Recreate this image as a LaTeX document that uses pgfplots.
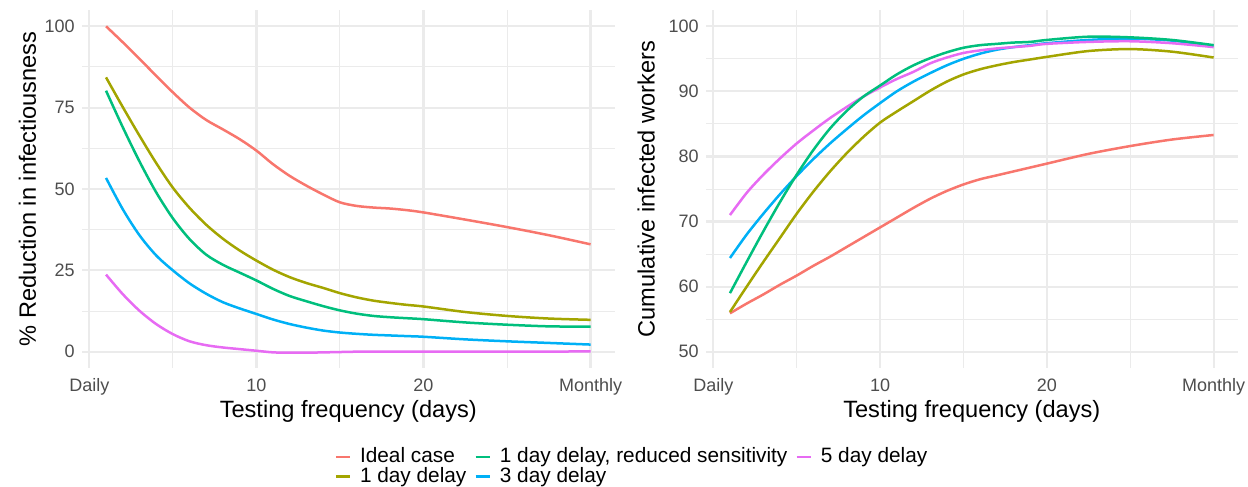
\documentclass[border=0pt]{standalone}
\usepackage{pgfplots}
\pgfplotsset{compat=1.18}
\usepackage{fontspec}
\setmainfont{Liberation Sans}
\definecolor{cRed}{HTML}{F8766D}
\definecolor{cOlive}{HTML}{A3A500}
\definecolor{cGreen}{HTML}{00BF7D}
\definecolor{cBlue}{HTML}{00B0F6}
\definecolor{cPink}{HTML}{E76BF3}
\definecolor{gridc}{HTML}{EBEBEB}
\definecolor{tickc}{HTML}{4D4D4D}
\pgfplotsset{
  gg/.style={
    scale only axis, width=266.5pt, height=179pt,
    xmin=-0.45, xmax=31.45,
    xtick={0,10,20,30}, xticklabels={Daily,10,20,Monthly},
    minor xtick={5,15,25},
    grid=both,
    major grid style={draw=gridc, line width=1.1pt},
    minor grid style={draw=gridc, line width=0.5pt},
    axis line style={draw=none},
    major tick length=0pt, minor tick length=0pt,
    tick label style={font=\fontsize{9}{10}\selectfont, text=tickc},
    xticklabel style={yshift=-1.8pt},
    /pgf/number format/assume math mode=true,
    xlabel={Testing frequency (days)},
    every axis x label/.style={at={(axis description cs:0.5,-0.122)}, anchor=center, font=\fontsize{11.8}{13}\selectfont},
    every axis plot/.append style={line width=1.25pt, smooth, mark=none},
  }
}
\begin{document}
\begin{tikzpicture}
\path[use as bounding box] (0,0) rectangle (624pt,243.5pt);
% ---------- left panel ----------
\begin{axis}[gg, at={(40.9pt,59.5pt)}, anchor=south west,
  ymin=-5, ymax=105, ytick={0,25,50,75,100}, minor ytick={12.5,37.5,62.5,87.5},
  ylabel={\% Reduction in infectiousness},
  every axis y label/.style={at={(axis description cs:-0.102,0.5)}, rotate=90, anchor=center, font=\fontsize{11.8}{13}\selectfont},
]
\addplot[cRed] coordinates {(1,100) (2,95.1) (3,90.0) (4,84.8) (5,79.7) (6,75.0) (7,71.2) (8,68.3) (9,65.3) (10,61.8) (11,57.6) (12,54.0) (13,51.0) (14,48.3) (15,45.9) (16,44.8) (17,44.3) (18,44.0) (19,43.5) (20,42.8) (22.5,40.6) (25,38.3) (27.5,35.8) (30,33.0)};
\addplot[cOlive] coordinates {(1,84.3) (2,75.2) (3,66.4) (4,58.0) (5,50.4) (6,44.2) (7,39.0) (8,34.7) (9,31.1) (10,28.0) (11,25.2) (12,22.9) (13,21.1) (14,19.6) (15,18.0) (16,16.7) (17,15.7) (18,15.0) (19,14.4) (20,13.9) (22.5,12.2) (25,11.0) (27.5,10.2) (30,9.8)};
\addplot[cGreen] coordinates {(1,80.2) (2,69.0) (3,58.5) (4,49.0) (5,41.0) (6,34.6) (7,29.8) (8,26.7) (9,24.3) (10,21.9) (11,19.3) (12,17.1) (13,15.5) (14,14.0) (15,12.7) (16,11.7) (17,11.0) (18,10.6) (19,10.3) (20,10.0) (22.5,9.0) (25,8.3) (27.5,7.8) (30,7.7)};
\addplot[cBlue] coordinates {(1,53.4) (2,43.8) (3,35.8) (4,29.6) (5,25.0) (6,21.0) (7,17.8) (8,15.2) (9,13.3) (10,11.6) (11,9.9) (12,8.5) (13,7.4) (14,6.5) (15,5.9) (16,5.5) (17,5.2) (18,5.0) (19,4.8) (20,4.6) (22.5,3.8) (25,3.2) (27.5,2.7) (30,2.2)};
\addplot[cPink] coordinates {(1,23.7) (2,17.7) (3,12.6) (4,8.5) (5,5.4) (6,3.2) (7,2.0) (8,1.3) (9,0.8) (10,0.3) (11,-0.2) (12,-0.3) (13,-0.3) (14,-0.2) (15,-0.1) (16,0) (20,0) (25,0) (30,0.1)};
\end{axis}
% ---------- right panel ----------
\begin{axis}[gg, at={(352.9pt,59.5pt)}, anchor=south west, width=266pt,
  ymin=47.5, ymax=102.5, ytick={50,60,70,80,90,100}, minor ytick={55,65,75,85,95},
  ylabel={Cumulative infected workers},
  every axis y label/.style={at={(axis description cs:-0.112,0.5)}, rotate=90, anchor=center, font=\fontsize{11.8}{13}\selectfont},
  legend style={at={(axis description cs:-0.137,-0.276)}, anchor=center, draw=none, fill=none,
    font=\fontsize{10.4}{11}\selectfont,
    nodes={text height=7.6pt, text depth=2.1pt, inner ysep=0pt},
    /tikz/every odd column/.append style={column sep=2.5pt},
    /tikz/every even column/.append style={column sep=2pt},
    row sep=0pt},
  legend columns=3, legend cell align=left,
  legend image code/.code={\draw[#1] (0pt,0pt) -- (7pt,0pt);},
]
\addplot[cRed, forget plot] coordinates {(1,55.9) (2,57.4) (3,58.8) (4,60.3) (5,61.7) (6,63.2) (7,64.6) (8,66.1) (9,67.6) (10,69.1) (11,70.6) (12,72.1) (13,73.5) (14,74.7) (15,75.7) (16,76.5) (17,77.1) (18,77.7) (19,78.3) (20,78.9) (22.5,80.4) (25,81.6) (27.5,82.6) (30,83.3)};
\addplot[cOlive, forget plot] coordinates {(1,56.1) (2,60.0) (3,63.8) (4,67.5) (5,71.2) (6,74.6) (7,77.7) (8,80.5) (9,83.0) (10,85.2) (11,86.9) (12,88.5) (13,90.1) (14,91.5) (15,92.6) (16,93.4) (17,94.0) (18,94.5) (19,94.9) (20,95.3) (22.5,96.2) (25,96.5) (27.5,96.1) (30,95.2)};
\addplot[cBlue, forget plot] coordinates {(1,64.4) (2,68.0) (3,71.2) (4,74.2) (5,77.0) (6,79.6) (7,82.0) (8,84.2) (9,86.3) (10,88.2) (11,90.0) (12,91.5) (13,92.8) (14,94.0) (15,95.0) (16,95.8) (17,96.4) (18,96.8) (19,97.1) (20,97.4) (22.5,97.9) (25,98.1) (27.5,97.8) (30,97.0)};
\addplot[cPink, forget plot] coordinates {(1,71.0) (2,74.4) (3,77.2) (4,79.7) (5,82.0) (6,84.0) (7,85.9) (8,87.6) (9,89.2) (10,90.6) (11,91.9) (12,93.0) (13,94.3) (14,95.2) (15,95.9) (16,96.3) (17,96.6) (18,96.8) (19,97.0) (20,97.3) (22.5,97.6) (25,97.7) (27.5,97.4) (30,96.8)};
\addplot[cGreen, forget plot] coordinates {(1,59.0) (2,63.8) (3,68.5) (4,73.0) (5,77.2) (6,81.0) (7,84.3) (8,87.0) (9,89.2) (10,90.9) (11,92.6) (12,94.0) (13,95.1) (14,96.0) (15,96.7) (16,97.1) (17,97.3) (18,97.5) (19,97.6) (20,97.9) (22.5,98.4) (25,98.3) (27.5,97.9) (30,97.1)};
\addlegendimage{cRed, line width=1.25pt}\addlegendentry{Ideal case}
\addlegendimage{cGreen, line width=1.25pt}\addlegendentry{1 day delay, reduced sensitivity}
\addlegendimage{cPink, line width=1.25pt}\addlegendentry{5 day delay}
\addlegendimage{cOlive, line width=1.25pt}\addlegendentry{1 day delay}
\addlegendimage{cBlue, line width=1.25pt}\addlegendentry{3 day delay}
\end{axis}
\end{tikzpicture}
\end{document}
